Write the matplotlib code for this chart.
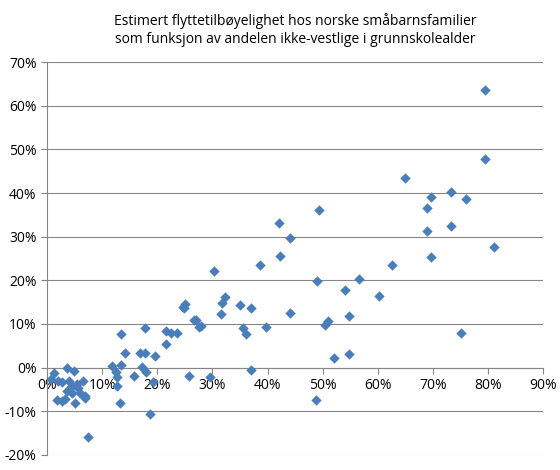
import matplotlib
matplotlib.use("Agg")
import matplotlib.pyplot as plt
from matplotlib.ticker import FuncFormatter

x_share = [79.5,79.5,65,69.7,73.3,76,69,49.3,69,73.3,42,44,42.2,69.7,62.6,38.6,81,30.3,75,
           56.5,49,54,60.3,51,50.5,54.7,44,39.8,35.5,36,37,35,32.3,31.8,31.5,28,27,25,24.6,
           23.5,22.5,21.5,21.5,25.8,29.5,37,52,54.8,48.8,
           24.8,26.6,27.5,13.5,17.8,14.2,16.9,17.8,19.6,11.8,13.4,12.5,12.7,17.3,17.9,15.7,
           19.3,12.7,13.3,18.7,7.5,
           1.3,0.8,2,3.6,4.8,2.7,3.9,4.5,5.4,6.6,3.6,6,1.8,2.7,3.3,5.1,6.8,6.9,4.6,5.7]
y_move = [63.5,47.8,43.5,39,40.2,38.6,36.5,36.2,31.3,32.5,33.1,29.7,25.6,25.4,23.5,23.5,27.6,22.1,8,
          20.2,19.8,17.8,16.4,10.7,9.8,11.8,12.5,9.3,9,7.6,13.6,14.4,16.2,14.7,12.2,9.5,11,14.5,14,
          8,8,8.5,5.5,-2,-2.2,-0.5,2.2,3.1,-7.3,
          13.7,10.8,9.3,7.6,9,3.3,3.4,3.4,2.7,0.4,0.6,-1.1,-2.1,0.2,-1.1,-1.9,
          -3.4,-4.2,-8,-10.7,-16,
          -1.3,-2.7,-3,0,-0.8,-3.4,-3,-4.2,-3.7,-3,-5.3,-5.7,-7.5,-7.6,-7.2,-8,-6.5,-7,-5.7,-4.7]

plt.rcParams['font.family'] = ['Open Sans', 'DejaVu Sans']
fig = plt.figure(figsize=(5.6, 4.7), dpi=100)
ax = fig.add_axes([0.084, 0.032, 0.886, 0.836])
ax.scatter(x_share, y_move, marker='D', s=28, color='#4A7EBB', zorder=3, linewidths=0)
ax.set_xlim(0, 90)
ax.set_ylim(-20, 70)
ax.set_xticks(range(0, 91, 10))
ax.set_yticks(range(-20, 71, 10))
fmt = FuncFormatter(lambda v, p: f"{int(round(v))}%")
ax.xaxis.set_major_formatter(fmt)
ax.yaxis.set_major_formatter(fmt)
ax.grid(axis='y', color='#868686', linewidth=0.8)
ax.set_axisbelow(True)
for s in ['top', 'right']:
    ax.spines[s].set_visible(False)
ax.spines['bottom'].set_position(('data', 0))
ax.spines['bottom'].set_color('#868686')
ax.spines['left'].set_color('#868686')
ax.tick_params(labelsize=10, length=4, color='#868686')
ax.set_title("Estimert flyttetilbøyelighet hos norske småbarnsfamilier\nsom funksjon av andelen ikke-vestlige i grunnskolealder",
             fontsize=10, pad=14)
fig.savefig("out.png")
